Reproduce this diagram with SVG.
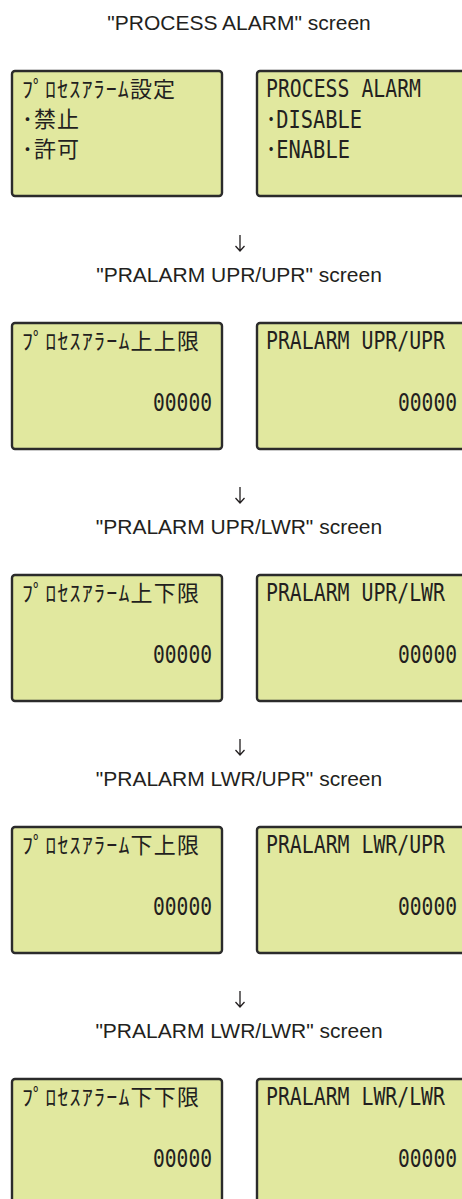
<svg xmlns="http://www.w3.org/2000/svg" width="462" height="1199" viewBox="0 0 462 1199">
<style>
.t{font-family:"Liberation Sans",Arial,sans-serif;font-size:21px;fill:#231f20;text-anchor:middle}
.ar{fill:none;stroke:#231f20;stroke-width:1.3}
.box{fill:#e1e89f;stroke:#2b2b2b;stroke-width:2.4}
.en{font-family:"DejaVu Sans Mono","Noto Sans CJK JP",monospace;font-size:24px;fill:#231f20}
.jp{font-family:"Noto Sans CJK JP",sans-serif;font-size:22px;fill:#231f20}
</style>
<defs>
<path id="arw" class="ar" d="M0,0 V16 M-4.5,11 L0,16 L4.5,11"/>
</defs>
<rect width="462" height="1199" fill="#ffffff"/>
<g id="connectors">
<use href="#arw" x="240" y="235"/>
<use href="#arw" x="240" y="487"/>
<use href="#arw" x="240" y="739"/>
<use href="#arw" x="240" y="991"/>
</g>
<g id="title0"><text class="t" x="239" y="29.5">"PROCESS ALARM" screen</text></g>
<g id="jp0">
<rect class="box" x="12" y="71" width="210" height="125" rx="3"/>
<text class="jp" x="22" y="97" textLength="153" lengthAdjust="spacing">ﾌﾟﾛｾｽｱﾗｰﾑ設定</text>
<text class="jp" x="22" y="127" textLength="57" lengthAdjust="spacing">･禁止</text>
<text class="jp" x="22" y="157" textLength="57" lengthAdjust="spacing">･許可</text>
</g>
<g id="en0">
<rect class="box" x="257" y="71" width="215" height="125" rx="3"/>
<text class="en" x="266" y="97" textLength="155" lengthAdjust="spacingAndGlyphs">PROCESS ALARM</text>
<text class="en" x="266" y="128" textLength="96" lengthAdjust="spacingAndGlyphs">･DISABLE</text>
<text class="en" x="266" y="157.5" textLength="84" lengthAdjust="spacingAndGlyphs">･ENABLE</text>
</g>

<g id="title1"><text class="t" x="239" y="281.5">"PRALARM UPR/UPR" screen</text></g>
<g id="jp1">
<rect class="box" x="12" y="323" width="210" height="126" rx="3"/>
<text class="jp" x="22" y="349" textLength="177" lengthAdjust="spacing">ﾌﾟﾛｾｽｱﾗｰﾑ上上限</text>
<text class="en" x="153" y="410.5" textLength="59" lengthAdjust="spacingAndGlyphs">00000</text>
</g>
<g id="en1">
<rect class="box" x="257" y="323" width="215" height="126" rx="3"/>
<text class="en" x="266" y="349" textLength="179" lengthAdjust="spacingAndGlyphs">PRALARM UPR/UPR</text>
<text class="en" x="398" y="410.5" textLength="59" lengthAdjust="spacingAndGlyphs">00000</text>
</g>

<g id="title2"><text class="t" x="239" y="533.5">"PRALARM UPR/LWR" screen</text></g>
<g id="jp2">
<rect class="box" x="12" y="575" width="210" height="126" rx="3"/>
<text class="jp" x="22" y="601" textLength="177" lengthAdjust="spacing">ﾌﾟﾛｾｽｱﾗｰﾑ上下限</text>
<text class="en" x="153" y="662.5" textLength="59" lengthAdjust="spacingAndGlyphs">00000</text>
</g>
<g id="en2">
<rect class="box" x="257" y="575" width="215" height="126" rx="3"/>
<text class="en" x="266" y="601" textLength="179" lengthAdjust="spacingAndGlyphs">PRALARM UPR/LWR</text>
<text class="en" x="398" y="662.5" textLength="59" lengthAdjust="spacingAndGlyphs">00000</text>
</g>

<g id="title3"><text class="t" x="239" y="785.5">"PRALARM LWR/UPR" screen</text></g>
<g id="jp3">
<rect class="box" x="12" y="827" width="210" height="126" rx="3"/>
<text class="jp" x="22" y="853" textLength="177" lengthAdjust="spacing">ﾌﾟﾛｾｽｱﾗｰﾑ下上限</text>
<text class="en" x="153" y="914.5" textLength="59" lengthAdjust="spacingAndGlyphs">00000</text>
</g>
<g id="en3">
<rect class="box" x="257" y="827" width="215" height="126" rx="3"/>
<text class="en" x="266" y="853" textLength="179" lengthAdjust="spacingAndGlyphs">PRALARM LWR/UPR</text>
<text class="en" x="398" y="914.5" textLength="59" lengthAdjust="spacingAndGlyphs">00000</text>
</g>

<g id="title4"><text class="t" x="239" y="1037.5">"PRALARM LWR/LWR" screen</text></g>
<g id="jp4">
<rect class="box" x="12" y="1079" width="210" height="126" rx="3"/>
<text class="jp" x="22" y="1105" textLength="177" lengthAdjust="spacing">ﾌﾟﾛｾｽｱﾗｰﾑ下下限</text>
<text class="en" x="153" y="1166.5" textLength="59" lengthAdjust="spacingAndGlyphs">00000</text>
</g>
<g id="en4">
<rect class="box" x="257" y="1079" width="215" height="126" rx="3"/>
<text class="en" x="266" y="1105" textLength="179" lengthAdjust="spacingAndGlyphs">PRALARM LWR/LWR</text>
<text class="en" x="398" y="1166.5" textLength="59" lengthAdjust="spacingAndGlyphs">00000</text>
</g>
</svg>
